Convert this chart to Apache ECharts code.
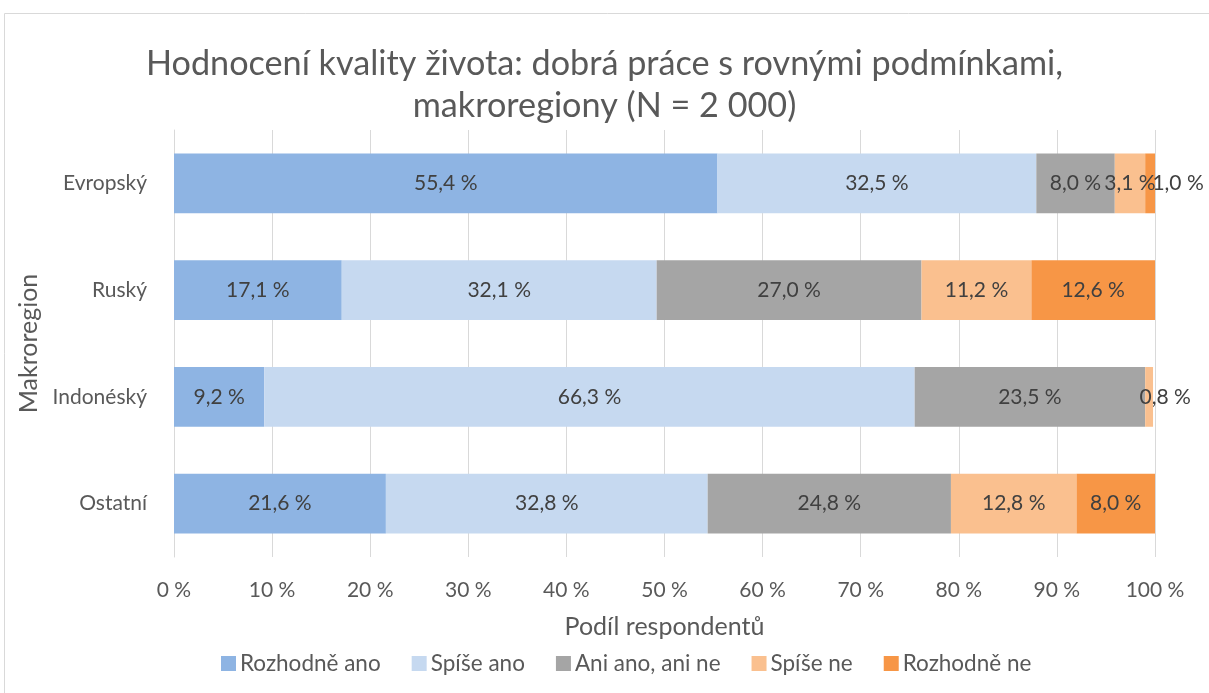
<!DOCTYPE html>
<html><head><meta charset="utf-8">
<script src="https://cdn.jsdelivr.net/npm/echarts@6/dist/echarts.min.js"></script>
<style>html,body{margin:0;padding:0;background:#fff}#c{width:1209px;height:693px}</style>
</head><body><div id="c"></div>
<script>
const categories = ['Evropský', 'Ruský', 'Indonéský', 'Ostatní'];
const seriesNames = ['Rozhodně ano', 'Spíše ano', 'Ani ano, ani ne', 'Spíše ne', 'Rozhodně ne'];
const rozhodneAno = [55.4, 17.1, 9.2, 21.6];
const spiseAno = [32.5, 32.1, 66.3, 32.8];
const aniAnoAniNe = [8.0, 27.0, 23.5, 24.8];
const spiseNe = [3.1, 11.2, 0.8, 12.8];
const rozhodneNe = [1.0, 12.6, 0, 8.0];
const xTicks = [0, 10, 20, 30, 40, 50, 60, 70, 80, 90, 100];

const colors = ['#8EB4E3', '#C6D9F0', '#A5A5A5', '#FAC08F', '#F79646'];
const FONT = 'Lato';
const TXT = '#595959';
const values = [rozhodneAno, spiseAno, aniAnoAniNe, spiseNe, rozhodneNe];
// label nudges for tiny end segments (style only)
const nudges = {'4-0': [28, 0], '3-2': [16, 0]};

const fmt = v => v.toFixed(1).replace('.', ',') + ' %';

const series = values.map((arr, si) => ({
  name: seriesNames[si],
  type: 'bar',
  stack: 'all',
  barCategoryGap: '44%',
  itemStyle: { color: colors[si] },
  label: {
    show: true, position: 'inside', color: '#404040',
    fontFamily: FONT, fontSize: 21,
    formatter: p => p.value > 0 ? fmt(p.value) : ''
  },
  emphasis: { disabled: true },
  data: arr.map((v, ci) => {
    const n = nudges[si + '-' + ci];
    return n ? { value: v, label: { offset: n } } : v;
  })
}));

const chart = echarts.init(document.getElementById('c'), null, { renderer: 'canvas' });
chart.setOption({
  animation: false,
  textStyle: { fontFamily: FONT },
  graphic: [{
    type: 'rect', shape: { x: 4.5, y: 13.5, width: 1300, height: 800 },
    style: { fill: 'none', stroke: '#D9D9D9', lineWidth: 1 }, silent: true
  }],
  title: {
    text: 'Hodnocení kvality života: dobrá práce s rovnými podmínkami,\nmakroregiony (N = 2 000)',
    left: 'center', top: 38,
    textStyle: { fontFamily: FONT, fontSize: 34.2, fontWeight: 'normal', color: TXT, lineHeight: 42 }
  },
  legend: {
    bottom: 13, left: 216, itemWidth: 15, itemHeight: 15, itemGap: 31,
    icon: 'rect',
    textStyle: { fontFamily: FONT, fontSize: 22.5, color: TXT, padding: [0, 0, 0, -1] }
  },
  grid: { left: 174, right: 54, top: 130, bottom: 136, containLabel: false },
  xAxis: {
    type: 'value', min: 0, max: 100, interval: 10,
    name: 'Podíl respondentů', nameLocation: 'middle', nameGap: 57,
    nameTextStyle: { fontFamily: FONT, fontSize: 25, color: TXT },
    axisLine: { show: false }, axisTick: { show: false },
    axisLabel: { fontFamily: FONT, fontSize: 21, color: TXT, margin: 23,
      formatter: v => xTicks.includes(v) ? v + ' %' : '' },
    splitLine: { show: true, lineStyle: { color: '#D9D9D9', width: 1 } }
  },
  yAxis: {
    type: 'category', data: categories, inverse: true,
    name: 'Makroregion', nameLocation: 'middle', nameGap: 132, nameRotate: 90,
    nameTextStyle: { fontFamily: FONT, fontSize: 25, color: TXT },
    axisLine: { show: true, lineStyle: { color: '#D9D9D9' } }, axisTick: { show: false },
    axisLabel: { fontFamily: FONT, fontSize: 21, color: TXT, margin: 27 }
  },
  series: series
});
</script></body></html>
